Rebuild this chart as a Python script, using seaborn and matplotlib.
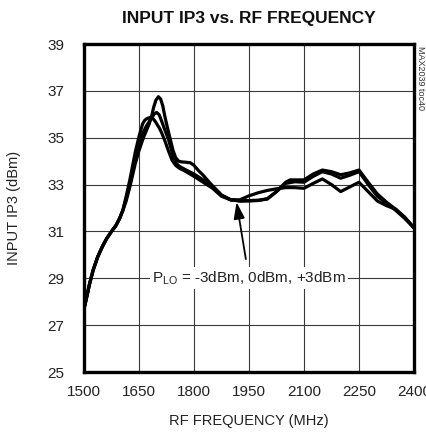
import matplotlib
matplotlib.use("Agg")
import matplotlib.pyplot as plt
from matplotlib import font_manager
import pandas as pd
import seaborn as sns

# ---- data: input IP3 (dBm) vs RF frequency (MHz) for three LO drive levels ----
freq_m3 = [1500, 1506, 1515, 1525, 1537, 1550, 1562, 1575, 1587, 1597, 1606, 1615, 1625,
           1640, 1650, 1662, 1678, 1685, 1690, 1696, 1703, 1709, 1715, 1720, 1725, 1735,
           1743, 1750, 1758, 1765, 1780, 1790, 1800, 1812, 1825, 1850, 1875, 1900, 1925,
           1950, 1975, 2000, 2025, 2050, 2062, 2075, 2100, 2125, 2150, 2175, 2200, 2225,
           2250, 2275, 2300, 2325, 2350, 2375, 2400]
ip3_m3 = [27.7, 28.1, 28.75, 29.35, 29.9, 30.35, 30.7, 31.0, 31.25, 31.55, 31.9, 32.3, 32.9,
          33.9, 34.45, 35.0, 35.6, 35.95, 36.3, 36.6, 36.75, 36.65, 36.35, 35.95, 35.6, 34.95,
          34.45, 34.15, 34.0, 33.97, 33.95, 33.93, 33.82, 33.6, 33.4, 32.95, 32.55, 32.35, 32.3,
          32.3, 32.32, 32.4, 32.7, 33.1, 33.2, 33.2, 33.2, 33.45, 33.62, 33.55, 33.42, 33.5,
          33.62, 33.1, 32.6, 32.25, 31.95, 31.6, 31.15]

freq_0 = [1500, 1506, 1515, 1525, 1537, 1550, 1562, 1575, 1587, 1597, 1606, 1615, 1625,
          1640, 1655, 1670, 1685, 1692, 1698, 1705, 1712, 1720, 1730, 1738, 1745, 1752,
          1760, 1775, 1800, 1825, 1850, 1875, 1900, 1925, 1950, 1975, 2000, 2025, 2050,
          2075, 2100, 2125, 2150, 2175, 2200, 2225, 2250, 2275, 2300, 2325, 2350, 2375, 2400]
ip3_0 = [27.7, 28.1, 28.75, 29.35, 29.9, 30.35, 30.7, 31.0, 31.25, 31.55, 31.9, 32.4, 33.0,
         34.1, 35.0, 35.5, 35.85, 36.02, 36.08, 35.98, 35.7, 35.35, 34.95, 34.5, 34.15, 33.9,
         33.78, 33.65, 33.45, 33.2, 32.95, 32.55, 32.35, 32.3, 32.32, 32.33, 32.38, 32.7, 33.05,
         33.12, 33.1, 33.35, 33.55, 33.45, 33.27, 33.4, 33.55, 33.0, 32.5, 32.2, 31.9, 31.55,
         31.15]

freq_p3 = [1500, 1506, 1515, 1525, 1537, 1550, 1562, 1575, 1587, 1597, 1606, 1615, 1625,
           1640, 1650, 1660, 1666, 1672, 1680, 1688, 1695, 1700, 1706, 1712, 1721, 1730,
           1740, 1750, 1760, 1775, 1800, 1825, 1850, 1875, 1900, 1925, 1950, 1975, 2000,
           2025, 2050, 2075, 2100, 2125, 2150, 2175, 2200, 2225, 2250, 2275, 2300, 2325,
           2350, 2375, 2400]
ip3_p3 = [27.7, 28.1, 28.75, 29.35, 29.9, 30.35, 30.7, 31.0, 31.25, 31.55, 31.9, 32.5, 33.2,
          34.4, 35.05, 35.6, 35.75, 35.82, 35.86, 35.82, 35.68, 35.55, 35.4, 35.2, 34.85, 34.45,
          34.05, 33.82, 33.7, 33.58, 33.35, 33.1, 32.85, 32.5, 32.35, 32.35, 32.52, 32.65, 32.75,
          32.82, 32.87, 32.87, 32.84, 33.05, 33.24, 33.0, 32.7, 32.9, 33.1, 32.7, 32.3, 32.1,
          31.95, 31.6, 31.15]

series_names = ["-3dBm", "0dBm", "+3dBm"]
x_ticks = [1500, 1650, 1800, 1950, 2100, 2250, 2400]
y_ticks = [25, 27, 29, 31, 33, 35, 37, 39]

df = pd.concat([
    pd.DataFrame({"freq": freq_m3, "ip3": ip3_m3, "plo": series_names[0]}),
    pd.DataFrame({"freq": freq_0, "ip3": ip3_0, "plo": series_names[1]}),
    pd.DataFrame({"freq": freq_p3, "ip3": ip3_p3, "plo": series_names[2]}),
])

# ---- style ----
sns.set_style("white")
installed = {f.name for f in font_manager.fontManager.ttflist}
narrow = "Liberation Sans Narrow" if "Liberation Sans Narrow" in installed else "Liberation Sans"
plt.rcParams["font.family"] = [narrow, "DejaVu Sans"]
plt.rcParams["mathtext.fontset"] = "custom"
plt.rcParams["mathtext.rm"] = narrow
plt.rcParams["mathtext.default"] = "regular"

fig = plt.figure(figsize=(4.27, 4.34), dpi=100)
ax = fig.add_axes([84 / 427, 1 - 372 / 434, 330 / 427, 328 / 434])

sns.lineplot(data=df, x="freq", y="ip3", hue="plo", palette=["black"] * 3,
             linewidth=2.3, legend=False, sort=True, ax=ax, estimator=None,
             solid_joinstyle="round", solid_capstyle="round")

ax.set_xlim(1500, 2400)
ax.set_ylim(25, 39)
ax.set_xticks(x_ticks)
ax.set_yticks(y_ticks)
ax.grid(True, color="#3a3a3a", linewidth=0.8)
ax.set_axisbelow(True)
for s in ax.spines.values():
    s.set_visible(True)
    s.set_linewidth(2.4)
    s.set_color("black")
ax.tick_params(axis="both", length=0, labelsize=11, colors="#222222")
ax.tick_params(axis="x", pad=9)
ax.tick_params(axis="y", pad=14)

ax.set_xlabel("RF FREQUENCY (MHz)", fontsize=10.5, color="#222222", labelpad=11)
ax.set_ylabel("INPUT IP3 (dBm)", fontsize=10.5, color="#222222", labelpad=19)
ax.set_title("INPUT IP3 vs. RF FREQUENCY", fontsize=12.5, fontweight="bold",
             color="#111111", pad=15)

# annotation for the LO drive levels
ax.annotate(r"P$_{LO}$ = -3dBm, 0dBm, +3dBm", xy=(1916, 32.25), xytext=(1950, 29.0),
            ha="center", va="center", fontsize=11, color="#222222",
            bbox=dict(boxstyle="square,pad=0.15", fc="white", ec="none"),
            arrowprops=dict(arrowstyle="-|>,head_length=0.9,head_width=0.3",
                            color="black", lw=1.3, shrinkA=6, shrinkB=0))

fig.text(421 / 427, 1 - 78 / 434, "MAX2039 toc40", rotation=270, ha="center",
         va="center", fontsize=6.5, color="#333333")

fig.savefig("out.png", dpi=100)
